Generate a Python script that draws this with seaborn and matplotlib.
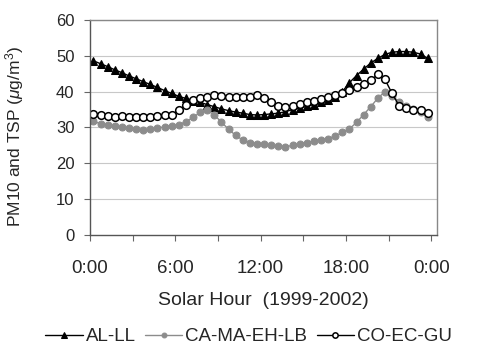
import numpy as np
import pandas as pd
import matplotlib
matplotlib.use("Agg")
import matplotlib.pyplot as plt
import seaborn as sns

# half-hourly values (hour mid-points)
hours = [0.25 + 0.5 * i for i in range(48)]

al_ll = [48.6, 47.8, 47.0, 46.1, 45.3, 44.4, 43.6, 42.8, 42.0, 41.2, 40.3, 39.5,
         38.7, 38.1, 37.5, 37.0, 36.4, 35.8, 35.2, 34.7, 34.3, 34.0, 33.6, 33.5,
         33.6, 33.8, 34.0, 34.4, 35.0, 35.4, 35.9, 36.4, 37.0, 37.6, 38.5, 40.0,
         42.5, 44.5, 46.3, 48.0, 49.3, 50.4, 51.0, 51.2, 51.2, 51.0, 50.5, 49.3]

ca_ma_eh_lb = [31.8, 31.0, 30.7, 30.5, 30.0, 29.8, 29.5, 29.2, 29.5, 29.8, 30.2, 30.5,
               30.8, 31.6, 32.8, 34.2, 34.8, 33.5, 31.5, 29.5, 27.8, 26.5, 25.8, 25.5,
               25.3, 25.0, 24.8, 24.6, 25.0, 25.4, 25.8, 26.2, 26.5, 26.9, 27.6, 28.6,
               29.6, 31.4, 33.6, 35.8, 38.2, 40.0, 38.8, 37.2, 36.0, 35.2, 34.4, 33.0]

co_ec_gu = [33.8, 33.4, 33.2, 33.0, 33.2, 32.9, 32.8, 32.9, 33.0, 33.2, 33.4, 33.6,
            34.8, 36.3, 37.6, 38.2, 38.6, 39.0, 38.8, 38.6, 38.5, 38.4, 38.6, 39.2,
            38.3, 37.0, 36.0, 35.6, 36.0, 36.5, 37.0, 37.4, 37.9, 38.4, 39.0, 39.6,
            40.5, 41.4, 42.2, 43.2, 44.8, 43.4, 39.5, 36.0, 35.3, 34.8, 35.0, 34.0]

series_names = ["AL-LL", "CA-MA-EH-LB", "CO-EC-GU"]
x_ticks = [0, 6, 12, 18, 24]
x_ticklabels = ["0:00", "6:00", "12:00", "18:00", "0:00"]
y_ticks = [0, 10, 20, 30, 40, 50, 60]

sns.set_style("white")
plt.rcParams["font.family"] = ["Liberation Sans", "DejaVu Sans"]
plt.rcParams["mathtext.fontset"] = "custom"
plt.rcParams["mathtext.it"] = "Liberation Sans:italic"
plt.rcParams["mathtext.rm"] = "Liberation Sans"

fig = plt.figure(figsize=(4.78, 3.45), dpi=100)
ax = fig.add_axes([0.188, 0.319, 0.726, 0.623])

for y in y_ticks[1:]:
    ax.axhline(y, color="#c8c8c8", lw=0.8, zorder=0)

styles = [
    dict(color="black", marker="^", markersize=5.5, markerfacecolor="black",
         markeredgecolor="black", linewidth=1.0),
    dict(color="#8c8c8c", marker="o", markersize=5, markerfacecolor="#8c8c8c",
         markeredgecolor="#8c8c8c", linewidth=1.0),
    dict(color="black", marker="o", markersize=5.5, markerfacecolor="white",
         markeredgecolor="black", markeredgewidth=1.1, linewidth=1.0),
]
for name, vals, st in zip(series_names, [al_ll, ca_ma_eh_lb, co_ec_gu], styles):
    df = pd.DataFrame({"hour": hours, "value": vals})
    sns.lineplot(data=df, x="hour", y="value", ax=ax, label=name, **st)

ax.set_xlim(0, 24.4)
ax.set_ylim(0, 60)
ax.set_xticks(x_ticks)
ax.set_xticklabels(x_ticklabels, fontsize=13.5)
ax.set_xticks([3, 9, 15, 21], minor=True)
ax.set_yticks(y_ticks)
ax.set_yticklabels([str(v) for v in y_ticks], fontsize=12)
ax.tick_params(axis="both", which="both", direction="out", length=4,
               width=0.8, color="#666666", bottom=True, left=True)
ax.tick_params(axis="y", pad=7)
ax.tick_params(axis="x", pad=14)

for side in ["left", "bottom"]:
    ax.spines[side].set_color("#555555")
    ax.spines[side].set_linewidth(1.0)
for side in ["top", "right"]:
    ax.spines[side].set_color("#888888")
    ax.spines[side].set_linewidth(1.0)

ax.set_xlabel("Solar Hour  (1999-2002)", fontsize=14, labelpad=11)
ax.set_ylabel(r"PM10 and TSP ($\mu$g/m$^3$)", fontsize=12.5)
ax.yaxis.set_label_coords(-0.185, 0.46)

handles, labels = ax.get_legend_handles_labels()
ax.get_legend().remove()
fig.legend(handles, labels, loc="lower center", bbox_to_anchor=(0.52, -0.05),
           ncol=3, frameon=False, fontsize=13.5, handlelength=2.0,
           handletextpad=0.15, columnspacing=0.5, markerscale=0.7)

fig.savefig("out.png", dpi=100, facecolor="white")
